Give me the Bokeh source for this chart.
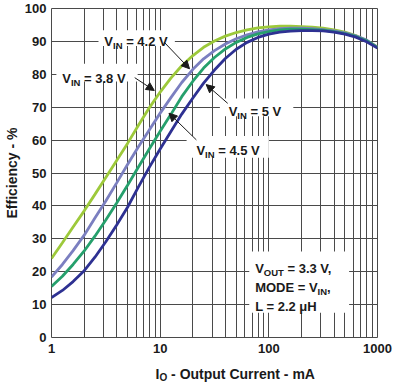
import math
from bokeh.plotting import figure
from bokeh.layouts import column
from bokeh.models import Label, Arrow, NormalHead, BoxAnnotation, FixedTicker, Range1d
from bokeh.embed import file_html
from bokeh.resources import INLINE

# ---------------- data ----------------
current_ma = [1, 1.26, 1.58, 2, 2.51, 3.16, 3.98, 5.01, 6.31, 7.94,
              10, 12.6, 15.8, 20, 25.1, 31.6, 39.8, 50.1, 63.1, 79.4,
              100, 126, 158, 200, 251, 316, 398, 501, 631, 794, 1000]
eff_vin_38 = [24.0, 28.8, 33.6, 38.5, 43.5, 48.6, 53.8, 59.0, 64.5, 69.8,
              74.6, 78.9, 82.6, 85.7, 88.2, 90.1, 91.6, 92.7, 93.5, 94.1,
              94.4, 94.6, 94.6, 94.5, 94.3, 94.0, 93.5, 92.8, 91.8, 90.3, 88.3]
eff_vin_42 = [18.4, 22.2, 26.4, 31.1, 36.3, 41.5, 47.0, 52.6, 58.0, 63.1,
              68.2, 73.0, 77.5, 81.5, 84.7, 87.2, 89.2, 90.8, 92.0, 92.9,
              93.5, 93.9, 94.0, 94.0, 93.9, 93.6, 93.2, 92.6, 91.7, 90.4, 88.2]
eff_vin_45 = [15.5, 18.6, 22.2, 26.3, 30.8, 35.7, 40.9, 46.3, 51.8, 57.3,
              62.7, 67.9, 73.2, 77.9, 81.9, 85.1, 87.7, 89.7, 91.2, 92.3,
              93.0, 93.5, 93.7, 93.7, 93.6, 93.4, 93.0, 92.4, 91.5, 90.2, 88.1]
eff_vin_50 = [12.1, 14.3, 17.0, 20.3, 24.4, 29.1, 34.2, 39.6, 45.8, 51.7,
              57.3, 62.7, 67.9, 72.8, 77.3, 81.3, 84.8, 87.6, 89.7, 91.2,
              92.2, 92.8, 93.1, 93.3, 93.3, 93.2, 92.8, 92.2, 91.3, 89.9, 88.0]

x_major_ticks = [1, 10, 100, 1000]
x_minor_ticks = [2, 3, 4, 5, 6, 7, 8, 9, 20, 30, 40, 50, 60, 70, 80, 90,
                 200, 300, 400, 500, 600, 700, 800, 900]
y_ticks = [0, 10, 20, 30, 40, 50, 60, 70, 80, 90, 100]

series = [
    (eff_vin_38, "#9dc93b"),
    (eff_vin_42, "#7b7fc0"),
    (eff_vin_45, "#26a06c"),
    (eff_vin_50, "#2e3192"),
]

# ---------------- main figure ----------------
FONT = "Liberation Sans"
INK = "#1a1a1a"
GRID = "#4a4a4a"

p = figure(width=398, height=358, x_axis_type="log",
           x_range=Range1d(1, 1000), y_range=Range1d(0, 100),
           output_backend="svg", toolbar_location=None,
           min_border_left=44, min_border_right=21, min_border_top=8, min_border_bottom=21)
p.background_fill_color = "white"
p.border_fill_color = "white"
p.outline_line_color = GRID
p.outline_line_width = 1

xt = FixedTicker(ticks=x_major_ticks, minor_ticks=x_minor_ticks)
yt = FixedTicker(ticks=y_ticks)
p.xaxis.ticker = xt
p.yaxis.ticker = yt
p.xgrid.ticker = xt
p.ygrid.ticker = yt
for g in (p.xgrid, p.ygrid):
    g.grid_line_color = GRID
    g.grid_line_width = 1
p.xgrid.minor_grid_line_color = GRID
p.xgrid.minor_grid_line_width = 1

p.xaxis.major_label_overrides = {1: "1", 10: "10", 100: "100", 1000: "1000"}
for ax in (p.xaxis, p.yaxis):
    ax.axis_line_color = None
    ax.major_tick_out = 0
    ax.major_tick_in = 0
    ax.minor_tick_out = 0
    ax.minor_tick_in = 0
    ax.major_label_text_font = FONT
    ax.major_label_text_font_size = "13px"
    ax.major_label_text_font_style = "bold"
    ax.major_label_text_color = INK
p.xaxis.major_label_standoff = 6
p.yaxis.major_label_standoff = 5
p.yaxis.axis_label = "Efficiency - %"
p.yaxis.axis_label_text_font = FONT
p.yaxis.axis_label_text_font_size = "14px"
p.yaxis.axis_label_text_font_style = "bold"
p.yaxis.axis_label_text_color = INK
p.yaxis.axis_label_standoff = 2

for ys, col in series:
    p.line(current_ma, ys, line_color=col, line_width=2.8)

# ---------------- annotation helpers (reference pixel -> data) ----------------
def X(px):
    return 10 ** ((px - 52) / 111.0)

def Y(py):
    return (337 - py) / 3.33

W = {' ': 278, '=': 584, '.': 278, ',': 278, '-': 333, 'V': 667, 'I': 278, 'N': 722,
     'O': 778, 'U': 722, 'T': 611, 'M': 833, 'D': 722, 'E': 667, 'L': 611, 'H': 722,
     'μ': 576, 'u': 611, 't': 333, 'p': 611, 'C': 722, 'r': 389, 'e': 556, 'n': 611,
     'm': 889, 'A': 722, '%': 889, 'f': 333, 'i': 278, 'c': 556, 'y': 556}
for d in "0123456789":
    W[d] = 556

def tw(s, size):
    return sum(W.get(c, 600) for c in s) * size / 1000.0

def rich(fig, xpos, ypos, parts):
    """parts: (text, font px, lowered px). Leading spaces become offsets."""
    dx = 0.0
    for text, size, dy in parts:
        lead = len(text) - len(text.lstrip(" "))
        dx += tw(" " * lead, size)
        t = text.lstrip(" ")
        fig.add_layout(Label(x=xpos, y=ypos, x_offset=dx, y_offset=-dy, text=t,
                             text_font=FONT, text_font_size=f"{size}px", text_font_style="bold",
                             text_baseline="alphabetic", text_align="left", text_color=INK))
        dx += tw(t, size)

def wbox(x0, y0, x1, y1):
    p.add_layout(BoxAnnotation(left=X(x0), right=X(x1), top=Y(y0), bottom=Y(y1),
                               fill_color="white", fill_alpha=1.0, line_color=None))

def arrow(x0, y0, x1, y1):
    p.add_layout(Arrow(x_start=X(x0), y_start=Y(y0), x_end=X(x1), y_end=Y(y1),
                       line_color=INK, line_width=1,
                       end=NormalHead(size=8, fill_color=INK, line_color=INK)))

S, s, D = 13, 9.5, 4

# VIN = 4.2 V
wbox(100, 26, 178, 42)
rich(p, X(106), Y(37.5), [("V", S, 0), ("IN", s, D), (" = 4.2 V", S, 0)])
arrow(167, 38, 193, 65)
# VIN = 3.8 V
wbox(57, 60, 140, 78)
rich(p, X(63), Y(75), [("V", S, 0), ("IN", s, D), (" = 3.8 V", S, 0)])
arrow(137, 74, 157, 87)
# VIN = 5 V
wbox(224, 95, 299, 113)
rich(p, X(233), Y(108), [("V", S, 0), ("IN", s, D), (" = 5 V", S, 0)])
arrow(232, 100, 210, 81)
# VIN = 4.5 V
wbox(190, 133, 274, 155)
rich(p, X(200), Y(148), [("V", S, 0), ("IN", s, D), (" = 4.5 V", S, 0)])
arrow(200, 137, 172, 110)
# conditions box
wbox(254, 250, 356, 312)
rich(p, X(260), Y(267), [("V", S, 0), ("OUT", s, D), (" = 3.3 V,", S, 0)])
rich(p, X(260), Y(286), [("MODE = V", S, 0), ("IN", s, D), (",", S, 0)])
rich(p, X(260), Y(306), [("L = 2.2 μH", S, 0)])

# ---------------- x-axis title strip (holds the subscript) ----------------
xl = figure(width=398, height=28, x_range=Range1d(0, 398), y_range=Range1d(28, 0),
            output_backend="svg", toolbar_location=None,
            x_axis_location=None, y_axis_location=None,
            min_border_left=0, min_border_right=0, min_border_top=0, min_border_bottom=0)
xl.outline_line_color = None
xl.background_fill_color = "white"
xl.border_fill_color = "white"
xl.xgrid.visible = False
xl.ygrid.visible = False
# picture x 135 -> strip x 127 ; picture baseline y 373 -> strip y 15
rich(xl, 127, 15, [("I", 14, 0), ("O", 10, 4), (" - Output Current - mA", 14, 0)])

layout = column(p, xl)
open("out.html", "w").write(file_html(layout, INLINE))
